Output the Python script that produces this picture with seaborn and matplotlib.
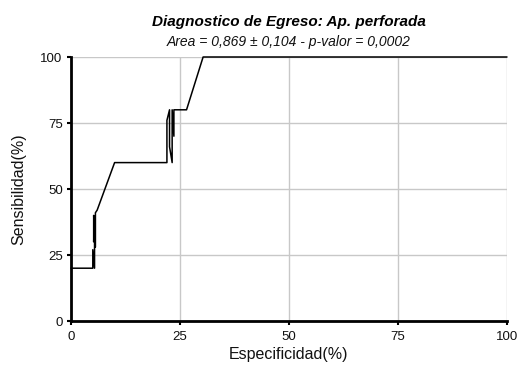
import matplotlib
matplotlib.use("Agg")
import matplotlib.pyplot as plt
import seaborn as sns
import pandas as pd

especificidad = [0.0, 5.0, 5.0, 5.4, 5.4, 5.2, 5.2, 5.6, 5.6, 6.0, 10.0,
                 22.0, 22.0, 22.6, 22.6, 23.2, 23.2, 23.6, 23.6, 26.5, 30.3, 100.0]
sensibilidad = [20.0, 20.0, 27.0, 20.0, 38.0, 30.0, 40.0, 28.0, 41.0, 42.0, 60.0,
                60.0, 76.0, 80.0, 66.0, 60.0, 80.0, 70.0, 80.0, 80.0, 100.0, 100.0]
ticks = [0, 25, 50, 75, 100]
titulo = "Diagnostico de Egreso: Ap. perforada"
subtitulo = "Area = 0,869 ± 0,104 - p-valor = 0,0002"

sns.set_style("white")
plt.rcParams['font.family'] = ['Liberation Sans', 'DejaVu Sans']

df = pd.DataFrame({"x": especificidad, "y": sensibilidad})

fig = plt.figure(figsize=(5.19, 3.67), dpi=100)
ax = fig.add_axes([71/519, 1 - 321/367, (507-71)/519, (321-57)/367])

ax.set_xlim(0, 100)
ax.set_ylim(0, 100)
ax.set_xticks(ticks)
ax.set_yticks(ticks)
ax.grid(True, color="#c8c8c8", linewidth=1.0)
ax.set_axisbelow(True)

sns.lineplot(data=df, x="x", y="y", sort=False, estimator=None, ax=ax,
             color="black", linewidth=1.1, clip_on=False)

for s in ["top", "right"]:
    ax.spines[s].set_visible(False)
for s in ["left", "bottom"]:
    ax.spines[s].set_color("black")
    ax.spines[s].set_linewidth(2.0)
ax.tick_params(axis="both", direction="out", length=3, width=1.5, color="black",
               labelsize=9.5, labelcolor="#111111", left=True, bottom=True)
ax.tick_params(axis="y", pad=3)
ax.tick_params(axis="x", pad=4)

ax.set_xlabel("Especificidad(%)", fontsize=11.5, labelpad=3, color="#111111")
ax.set_ylabel("Sensibilidad(%)", fontsize=11.5, labelpad=10, color="#111111")

fig.text(289/519, 1 - 22/367, titulo, ha="center", va="center",
         fontsize=11, fontweight="bold", fontstyle="italic", color="black")
fig.text(289/519, 1 - 42/367, subtitulo, ha="center", va="center",
         fontsize=10, fontstyle="italic", color="#111111")

fig.savefig("out.png", dpi=100)
